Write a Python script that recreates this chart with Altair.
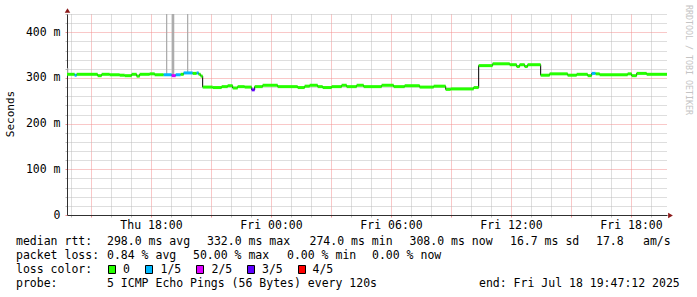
import altair as alt
import pandas as pd

# ---------------- data ----------------
# median RTT (ms), drawn as steps; loss = lost pings out of 5
step_time = [
    "2025-07-17T13:48", "2025-07-17T14:11", "2025-07-17T14:17", "2025-07-17T15:20",
    "2025-07-17T15:32", "2025-07-17T15:56", "2025-07-17T16:26", "2025-07-17T16:41",
    "2025-07-17T17:02", "2025-07-17T17:17", "2025-07-17T17:26", "2025-07-17T17:56",
    "2025-07-17T18:11", "2025-07-17T18:38", "2025-07-17T19:02", "2025-07-17T19:14",
    "2025-07-17T19:29", "2025-07-17T19:38", "2025-07-17T20:05", "2025-07-17T20:17",
    "2025-07-17T20:23", "2025-07-17T20:29", "2025-07-17T20:35", "2025-07-17T21:05",
    "2025-07-17T21:32", "2025-07-17T21:50", "2025-07-17T22:05", "2025-07-17T22:20",
    "2025-07-17T22:41", "2025-07-17T23:02", "2025-07-17T23:11", "2025-07-17T23:35",
    "2025-07-18T00:20", "2025-07-18T01:20", "2025-07-18T01:41", "2025-07-18T01:56",
    "2025-07-18T02:20", "2025-07-18T02:35", "2025-07-18T03:02", "2025-07-18T03:32",
    "2025-07-18T03:47", "2025-07-18T04:17", "2025-07-18T04:38", "2025-07-18T05:32",
    "2025-07-18T06:08", "2025-07-18T06:41", "2025-07-18T07:26", "2025-07-18T08:08",
    "2025-07-18T08:44", "2025-07-18T08:59", "2025-07-18T10:08", "2025-07-18T10:23",
    "2025-07-18T11:05", "2025-07-18T11:56", "2025-07-18T12:17", "2025-07-18T12:26",
    "2025-07-18T12:41", "2025-07-18T12:50", "2025-07-18T13:29", "2025-07-18T13:56",
    "2025-07-18T14:50", "2025-07-18T15:17", "2025-07-18T15:50", "2025-07-18T16:02",
    "2025-07-18T16:14", "2025-07-18T16:26", "2025-07-18T17:50", "2025-07-18T18:02",
    "2025-07-18T18:17", "2025-07-18T18:47",
]
step_ms = [
    308, 306, 308, 305, 308, 307, 306, 305,
    308, 304, 308, 309, 307, 307, 305, 307,
    308, 311, 310, 311, 308, 304, 280, 279,
    281, 283, 278, 281, 280, 274, 281, 284,
    281, 279, 282, 284, 281, 279, 281, 284,
    281, 284, 281, 284, 281, 283, 280, 282,
    275, 276, 279, 327, 331, 329, 325, 329,
    325, 329, 306, 309, 306, 308, 305, 310,
    309, 307, 309, 305, 310, 308,
]
step_loss = [
    0, 1, 0, 0, 0, 0, 0, 0,
    0, 0, 0, 0, 0, 1, 2, 1,
    0, 1, 0, 1, 0, 0, 0, 0,
    0, 0, 0, 0, 0, 3, 0, 0,
    0, 0, 0, 0, 0, 0, 0, 0,
    0, 0, 0, 0, 0, 0, 0, 0,
    0, 0, 0, 0, 0, 0, 0, 0,
    0, 0, 0, 0, 0, 0, 0, 1,
    0, 0, 0, 0, 0, 0,
]
start_time = "2025-07-17T13:48:00"
end_time = "2025-07-18T19:48:00"

# smoke: single slow pings
spike_time = ["2025-07-17T13:50", "2025-07-17T18:47", "2025-07-17T19:05",
              "2025-07-17T19:08", "2025-07-17T19:50"]
spike_low = [308, 307, 305, 305, 311]
spike_high = [322, 470, 520, 520, 480]

loss_labels = ["0", "1/5", "2/5", "3/5", "4/5"]
loss_colors = ["#26ff00", "#00b8ff", "#dd00ff", "#5e00ff", "#ff0000"]

rtt_stats = ["298.0 ms avg", "332.0 ms max", "274.0 ms min", "308.0 ms now",
             "16.7 ms sd", "17.8", "am/s"]
loss_stats = ["0.84 % avg", "50.00 % max", "0.00 % min", "0.00 % now"]
probe_text = "5 ICMP Echo Pings (56 Bytes) every 120s"
end_text = "end: Fri Jul 18 19:47:12 2025"
y_title = "Seconds"
watermark = "RRDTOOL / TOBI OETIKER"

# ---------------- helpers ----------------
def ms(s):
    return int(pd.Timestamp(s).value // 10**6)

t0, t1 = ms(start_time), ms(end_time)
hour_ticks = [int(t.value // 10**6) for t in
              pd.date_range("2025-07-17T14:00", "2025-07-18T19:00", freq="h")]
y_ticks = list(range(0, 441, 20))

FONT = "DejaVu Sans Mono"
FS = 11.5
GRID = "#bcbcbc"
MGRID = "#f29090"
AXIS = "#303030"
ARROW = "#8b1a1a"
OX, OY = 67, 14          # plot origin in page pixels
W, H = 600, 201

steps = pd.DataFrame({"t": [ms(s) for s in step_time], "ms": step_ms,
                      "loss": [loss_labels[i] for i in step_loss]})
steps["t2"] = list(steps["t"][1:]) + [t1]
line_df = pd.concat([steps[["t", "ms"]],
                     pd.DataFrame({"t": [t1], "ms": [step_ms[-1]]})], ignore_index=True)
spikes = pd.DataFrame({"t": [ms(s) for s in spike_time], "lo": spike_low, "hi": spike_high})

x_axis = alt.Axis(
    values=hour_ticks, title=None, grid=True,
    gridColor={"condition": {"test": "utchours(datum.value) % 3 === 0", "value": MGRID}, "value": GRID},
    gridDash=[1, 1], gridWidth=1, gridOpacity=1,
    tickColor={"condition": {"test": "utchours(datum.value) % 3 === 0", "value": MGRID}, "value": GRID},
    tickSize=2, tickWidth=1,
    domainColor=AXIS, domainWidth=1,
    labelExpr="utchours(datum.value) % 6 === 0 ? utcFormat(datum.value, '%a %H:%M') : ''",
    labelFont=FONT, labelFontSize=FS, labelColor="#000000", labelPadding=2,
    labelOverlap=False, labelFlush=False, labelBound=False,
)
y_axis = alt.Axis(
    values=y_ticks, title=None, grid=True,
    gridColor={"condition": {"test": "datum.value % 100 === 0", "value": MGRID}, "value": GRID},
    gridDash=[1, 1], gridWidth=1, gridOpacity=1,
    tickColor={"condition": {"test": "datum.value % 100 === 0", "value": MGRID}, "value": GRID},
    tickSize=2, tickWidth=1,
    domainColor=AXIS, domainWidth=1,
    labelExpr="datum.value % 100 === 0 ? (datum.value === 0 ? '0' : datum.value + ' m') : ''",
    labelFont=FONT, labelFontSize=FS, labelColor="#000000", labelPadding=5,
    labelOverlap=False, labelFlush=False, labelBound=False,
)
xs = alt.Scale(type="utc", domain=[t0, t1])
ys = alt.Scale(domain=[0, 440], nice=False, zero=True)
cs = alt.Scale(domain=loss_labels, range=loss_colors)

smoke = alt.Chart(spikes).mark_rule(color="#a8a8a8", strokeWidth=1.2, clip=True).encode(
    x=alt.X("t:T", scale=xs, axis=x_axis),
    y=alt.Y("lo:Q", scale=ys, axis=y_axis), y2="hi:Q")

median_line = alt.Chart(line_df).mark_line(
    interpolate="step-after", color="#000000", strokeWidth=1).encode(
    x=alt.X("t:T", scale=xs, axis=x_axis), y=alt.Y("ms:Q", scale=ys, axis=y_axis))

median_col = alt.Chart(steps).mark_rule(strokeWidth=3, strokeCap="butt").encode(
    x=alt.X("t:T", scale=xs, axis=x_axis), x2="t2:T",
    y=alt.Y("ms:Q", scale=ys, axis=y_axis),
    color=alt.Color("loss:N", scale=cs, legend=None))

# legend text rows (page pixel layout)
row_y = [241.5, 255.5, 269.5, 283.5]
texts, px, py = [], [], []
def put(s, x, r):
    texts.append(s); px.append(x - OX); py.append(row_y[r] - OY)
put("median rtt:", 16, 0)
for s, x in zip(rtt_stats, [107, 207, 309.5, 409.5, 510, 596, 643]):
    put(s, x, 0)
put("packet loss:", 16, 1)
for s, x in zip(loss_stats, [107, 193, 287, 372]):
    put(s, x, 1)
put("loss color:", 16, 2)
for s, x in zip(loss_labels, [123, 160.5, 211.5, 262, 312.5]):
    put(s, x, 2)
put("probe:", 16, 3)
put(probe_text, 107, 3)
put(end_text, 479, 3)
text_df = pd.DataFrame({"text": texts, "px": px, "py": py})

legend_text = alt.Chart(text_df).mark_text(
    align="left", baseline="middle", font=FONT, fontSize=FS, color="#000000").encode(
    x=alt.X("px:Q", scale=None, axis=None), y=alt.Y("py:Q", scale=None, axis=None),
    text="text:N")

box_x = [108.5, 145.5, 196.5, 247.5, 298.5]
box_df = pd.DataFrame({"loss": loss_labels,
                       "x1": [b - OX for b in box_x], "x2": [b + 7 - OX for b in box_x],
                       "y1": [265.5 - OY] * 5, "y2": [273.5 - OY] * 5})
legend_boxes = alt.Chart(box_df).mark_rect(stroke="#000000", strokeWidth=1).encode(
    x=alt.X("x1:Q", scale=None, axis=None), x2="x2:Q",
    y=alt.Y("y1:Q", scale=None, axis=None), y2="y2:Q",
    color=alt.Color("loss:N", scale=cs, legend=None))

title_df = pd.DataFrame({"s": [y_title]})
ytitle = alt.Chart(title_df).mark_text(
    angle=270, font=FONT, fontSize=11, color="#000000", align="center", baseline="middle").encode(
    x=alt.value(11 - OX), y=alt.value(114 - OY), text="s:N")

wm = alt.Chart(pd.DataFrame({"s": [watermark]})).mark_text(
    angle=90, font=FONT, fontSize=8.3, color="#c4c4c4", align="center", baseline="middle").encode(
    x=alt.value(687.5 - OX), y=alt.value(60 - OY), text="s:N")

arrow_up = alt.Chart(pd.DataFrame({"a": ["y"]})).mark_point(
    shape="triangle-up", filled=True, size=30, color=ARROW, opacity=1).encode(
    x=alt.value(0.5), y=alt.value(-3.5))
arrow_right = alt.Chart(pd.DataFrame({"a": ["x"]})).mark_point(
    shape="triangle-right", filled=True, size=30, color=ARROW, opacity=1).encode(
    x=alt.value(W + 3.5), y=alt.value(H + 0.5))

chart = alt.layer(
    smoke, median_line, median_col, legend_text, legend_boxes, ytitle, wm, arrow_up, arrow_right
).properties(
    width=W, height=H,
    padding={"left": OX, "top": OY, "right": 697 - OX - W, "bottom": 297 - OY - H},
    autosize=alt.AutoSizeParams(type="none"),
    background="#ffffff",
).configure_view(stroke=None)

chart.save("out.html", embed_options={"renderer": "svg", "actions": False})
